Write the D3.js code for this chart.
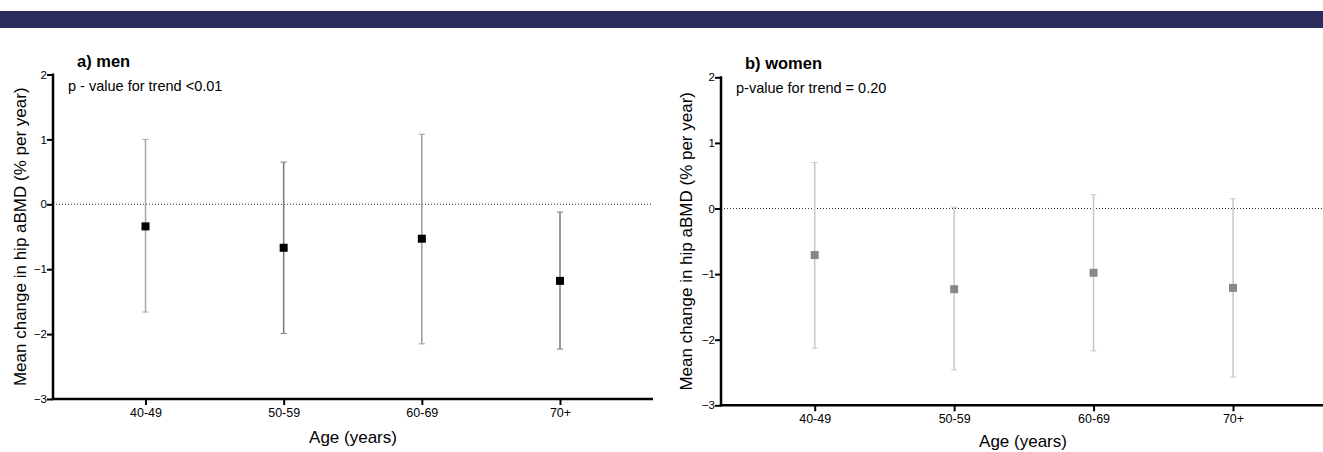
<!DOCTYPE html>
<html>
<head>
<meta charset="utf-8">
<script src="https://cdn.jsdelivr.net/npm/d3@7"></script>
<style>
  body { margin: 0; background: #fff; }
  svg { display: block; font-family: 'Liberation Sans', Arial, sans-serif; }
  .tick text { fill: #000; }
</style>
</head>
<body>
<div id="chart"></div>
<script>
// data
const ageGroups = ['40-49', '50-59', '60-69', '70+'];
const yTicks = [2, 1, 0, -1, -2, -3];

const menMean = [-0.34, -0.67, -0.53, -1.18];
const menLower = [-1.66, -1.99, -2.15, -2.23];
const menUpper = [1.0, 0.65, 1.08, -0.12];

const womenMean = [-0.71, -1.23, -0.98, -1.21];
const womenLower = [-2.13, -2.46, -2.17, -2.57];
const womenUpper = [0.70, 0.02, 0.21, 0.15];

const W = 1323, H = 452;

const svg = d3.select('#chart')
  .append('svg')
  .attr('width', W)
  .attr('height', H);

// dark banner across the top
svg.append('rect')
  .attr('x', 0)
  .attr('y', 11)
  .attr('width', W)
  .attr('height', 17)
  .style('fill', '#2b2c5e');

// one panel per sex
const panels = [
  {
    title: 'a) men', note: 'p - value for trend <0.01',
    mean: menMean, lower: menLower, upper: menUpper,
    left: 53, right: 653, top: 74.5, bottom: 399,
    firstX: 145.5, lastX: 560,
    marker: '#000', bars: ['#a6a6a6', '#777', '#999', '#777'],
    yLabelX: 20, xLabelY: 443
  },
  {
    title: 'b) women', note: 'p-value for trend = 0.20',
    mean: womenMean, lower: womenLower, upper: womenUpper,
    left: 721, right: 1325, top: 77.3, bottom: 405.3,
    firstX: 814.7, lastX: 1233,
    marker: '#888', bars: ['#c8c8c8', '#c8c8c8', '#c8c8c8', '#c8c8c8'],
    yLabelX: 686, xLabelY: 447
  }
];

panels.forEach(function (p) {
  const data = ageGroups.map((g, i) => ({
    group: g, mean: p.mean[i], lower: p.lower[i], upper: p.upper[i], i: i
  }));

  const xScale = d3.scalePoint()
    .domain(ageGroups)
    .range([p.firstX, p.lastX]);

  const yScale = d3.scaleLinear()
    .domain([-3, 2])
    .range([p.bottom, p.top]);

  const g = svg.append('g');

  // dotted zero line
  g.append('line')
    .attr('x1', p.left)
    .attr('x2', p.right)
    .attr('y1', yScale(0))
    .attr('y2', yScale(0))
    .attr('stroke', '#333')
    .attr('stroke-width', 1)
    .attr('stroke-dasharray', '1,2');

  // error bars
  g.selectAll('.bar')
    .data(data)
    .enter()
    .append('line')
    .attr('x1', (d) => xScale(d.group))
    .attr('x2', (d) => xScale(d.group))
    .attr('y1', (d) => yScale(d.upper))
    .attr('y2', (d) => yScale(d.lower))
    .attr('stroke', (d) => p.bars[d.i])
    .attr('stroke-width', 1.5);

  // caps
  ['upper', 'lower'].forEach(function (k) {
    g.selectAll('.cap-' + k)
      .data(data)
      .enter()
      .append('line')
      .attr('x1', (d) => xScale(d.group) - 3)
      .attr('x2', (d) => xScale(d.group) + 3)
      .attr('y1', (d) => yScale(d[k]))
      .attr('y2', (d) => yScale(d[k]))
      .attr('stroke', (d) => p.bars[d.i])
      .attr('stroke-width', 1);
  });

  // mean markers
  g.selectAll('.pt')
    .data(data)
    .enter()
    .append('rect')
    .attr('x', (d) => xScale(d.group) - 4)
    .attr('y', (d) => yScale(d.mean) - 4)
    .attr('width', 8)
    .attr('height', 8)
    .style('fill', p.marker);

  // y axis
  const yAxis = g.append('g')
    .attr('transform', `translate(${p.left}, 0)`)
    .call(d3.axisLeft(yScale).tickValues(yTicks).tickSize(6).tickSizeOuter(0).tickFormat(d3.format('d')));
  yAxis.select('.domain').remove();
  yAxis.selectAll('.tick line').attr('stroke-width', 2);
  yAxis.selectAll('.tick text')
    .attr('x', -6)
    .style('font-size', '11.5px')
    .style('font-family', "'Liberation Sans', Arial, sans-serif");
  g.append('line')
    .attr('x1', p.left).attr('x2', p.left)
    .attr('y1', p.top - 1).attr('y2', p.bottom + 1)
    .attr('stroke', '#000')
    .attr('stroke-width', 2.5);

  // x axis
  const xAxis = g.append('g')
    .attr('transform', `translate(0, ${p.bottom})`)
    .call(d3.axisBottom(xScale).tickSize(6).tickSizeOuter(0));
  xAxis.select('.domain').remove();
  xAxis.selectAll('.tick line').attr('stroke-width', 2);
  xAxis.selectAll('.tick text')
    .attr('y', 9)
    .style('font-size', '12.5px')
    .style('font-family', "'Liberation Sans', Arial, sans-serif");
  g.append('line')
    .attr('x1', p.left - 1).attr('x2', p.right)
    .attr('y1', p.bottom).attr('y2', p.bottom)
    .attr('stroke', '#000')
    .attr('stroke-width', 2.5);

  // panel title and p-value note
  g.append('text')
    .attr('x', p.left + 24)
    .attr('y', p.top - 8)
    .style('font-size', '16.5px')
    .style('font-weight', 'bold')
    .text(p.title);

  g.append('text')
    .attr('x', p.left + 15)
    .attr('y', p.top + 16)
    .style('font-size', '14.5px')
    .text(p.note);

  // axis titles
  g.append('text')
    .attr('transform', `translate(${p.yLabelX + 6}, ${(p.top + p.bottom) / 2}) rotate(-90)`)
    .attr('text-anchor', 'middle')
    .style('font-size', '17px')
    .text('Mean change in hip aBMD (% per year)');

  g.append('text')
    .attr('x', (p.left + p.right) / 2)
    .attr('y', p.xLabelY)
    .attr('text-anchor', 'middle')
    .style('font-size', '17px')
    .text('Age (years)');
});
</script>
</body>
</html>
